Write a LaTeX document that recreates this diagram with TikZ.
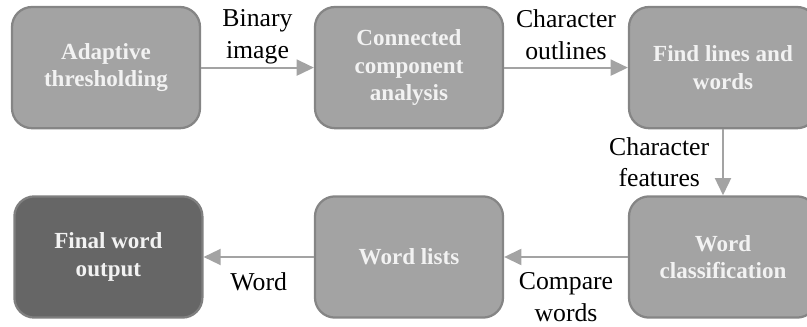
\documentclass[tikz,border=0pt]{standalone}
\usepackage{fontspec}
\setmainfont{Liberation Serif}
\usetikzlibrary{arrows.meta}
\definecolor{boxfill}{HTML}{A3A3A3}
\definecolor{boxline}{HTML}{858585}
\definecolor{finalfill}{HTML}{666666}
\definecolor{finalline}{HTML}{7F7F7F}
\definecolor{boxtext}{HTML}{F2F2F2}
\definecolor{arrowgray}{HTML}{A3A3A3}
\newcommand{\boxw}{4.7cm}
\newcommand{\boxh}{3.03cm}
\tikzset{
  stage/.style={draw=boxline, fill=boxfill, line width=1.6pt, rounded corners=0.5cm,
    minimum width=\boxw, minimum height=\boxh, align=center, text=boxtext,
    font=\fontsize{16.4}{19.3}\selectfont\bfseries},
  finalstage/.style={stage, draw=finalline, fill=finalfill},
  flow/.style={draw=arrowgray, line width=1.4pt, -{Triangle[length=0.43cm,width=0.4cm]}},
  lbl/.style={align=center, text=black, inner sep=2pt, font=\fontsize{18.3}{22.5}\selectfont}
}

\begin{document}
\begin{tikzpicture}
\useasboundingbox (0,0) rectangle (20.175,-8.175);
\node[stage] (1) at (2.65, -1.69) {Adaptive\\thresholding};
\node[stage] (2) at (10.225, -1.69) {Connected\\component\\analysis};
\node[stage] (3) at (18.075, -1.69) {Find lines and\\words};
\node[finalstage] (4) at (2.71, -6.425) {Final word\\output};
\node[stage] (5) at (10.225, -6.425) {Word lists};
\node[stage] (6) at (18.075, -6.425) {Word\\classification};
%arrows
\draw[flow] (1) -- node[lbl, above] {Binary\\image} (2);
\draw[flow] (2) -- node[lbl, above, yshift=0.1cm] {Character\\outlines} (3);
\draw[flow] (3) -- node[lbl, left=0.25cm] {Character\\features} (6);
\draw[flow] (6) -- node[lbl, below=0.3cm] {Compare\\words} (5);
\draw[flow] (5) -- node[lbl, below=0.3cm] {Word} (4);
\end{tikzpicture}
\end{document}
